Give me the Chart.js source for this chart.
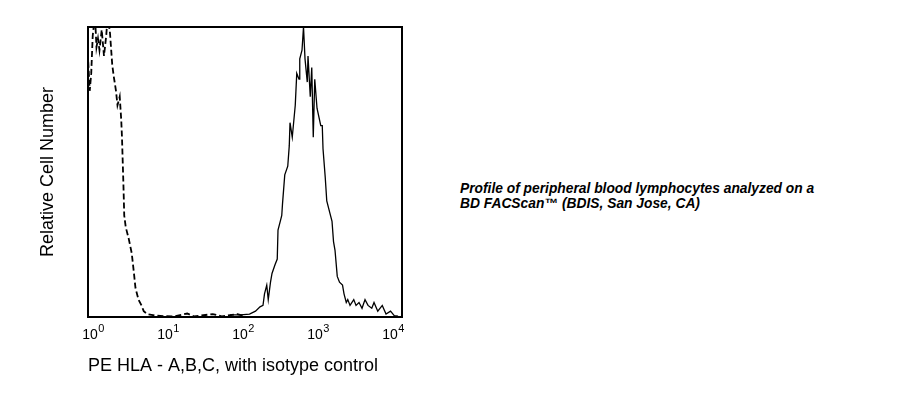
<!DOCTYPE html>
<html>
<head>
<meta charset="utf-8">
<script src="https://cdn.jsdelivr.net/npm/chart.js@4/dist/chart.umd.min.js"></script>
<style>
  body { margin: 0; background: #fff; }
  #wrap { position: absolute; left: 0; top: 0; width: 430px; height: 394px; }
  #caption {
    position: absolute; left: 460px; top: 181px;
    font: italic bold 13.8px "Liberation Sans", Arial, sans-serif;
    line-height: 15px; color: #000; white-space: nowrap;
  }
</style>
</head>
<body>
<div id="wrap"><canvas id="histChart" width="430" height="394"></canvas></div>
<div id="caption">Profile of peripheral blood lymphocytes analyzed on a<br>BD FACScan™ (BDIS, San Jose, CA)</div>
<script>
// x values are log10 of fluorescence (decades), y is relative cell count
let isoLog = [-0.07,-0.05,-0.03,-0.01,0.02,0.04,0.06,0.08,0.11,0.14,0.17,0.19,0.22,0.25,0.27,0.30,0.32,0.35,0.37,0.38,
  0.40,0.41,0.43,0.47,0.51,0.54,0.56,0.60,0.64,0.67,0.72,0.82,0.95,1.08,1.25,1.34,1.59,1.71,1.92,2.02];
let isoCount = [88,78,84,97,104,93,96,92,99,90,97,104,98,87,83,78,73,76,68,62,
  45,35,31,27,22,15,10,6,4,2,1,0.5,0.3,0.2,1.2,0.2,1.0,0.2,1.0,0.2];

let hlaLog = [1.82,1.96,2.08,2.16,2.22,2.26,2.28,2.31,2.33,2.36,2.38,2.42,2.45,2.46,2.49,2.51,2.52,2.55,2.59,2.61,
  2.62,2.65,2.69,2.71,2.74,2.75,2.78,2.80,2.82,2.85,2.86,2.89,2.91,2.93,2.95,2.98,3.03,3.05,3.06,3.09,
  3.11,3.15,3.18,3.20,3.22,3.25,3.28,3.32,3.34,3.37,3.39,3.42,3.47,3.50,3.54,3.58,3.62,3.66,3.71,3.74,
  3.79,3.85,3.90,3.96,4.01,4.06];
let hlaCount = [0.7,0.7,1,2,3.5,4,8,11,6,12,15,18,20,30,33,35,39,49,52,59,
  67,62,73,84,82,89,92,100,89,81,90,76,86,62,82,72,66,66,58,48,
  40,36,33,26,23,14,12,11,8,5,6,4,6,4,5,3,6,4,3,5,
  2,4,1,2,0.5,0.3];

let tickValues = [0, 1, 2, 3, 4];
let tickBase = "10";
let tickExponents = ["0", "1", "2", "3", "4"];

let boxPlugin = {
  id: 'box',
  afterDraw(chart) {
    let a = chart.chartArea;
    let c = chart.ctx;
    c.save();
    c.strokeStyle = '#000';
    c.lineWidth = 2;
    c.strokeRect(a.left, a.top, a.right - a.left, a.bottom - a.top);
    c.restore();
  }
};

// draws the decade exponents next to the "10" tick labels
let exponentPlugin = {
  id: 'exponents',
  afterDraw(chart) {
    let sx = chart.scales.x;
    let c = chart.ctx;
    let off = sx.options.ticks.labelOffset;
    c.save();
    c.font = '14px "Liberation Sans", Arial, sans-serif';
    let w = c.measureText(tickBase).width;
    c.font = '11px "Liberation Sans", Arial, sans-serif';
    c.fillStyle = '#000';
    c.textAlign = 'left';
    c.textBaseline = 'alphabetic';
    sx.ticks.forEach((t, i) => {
      let px = sx.getPixelForValue(t.value) + off;
      c.fillText(tickExponents[i], px + w / 2 + 0.5, chart.chartArea.bottom + 15);
    });
    c.restore();
  }
};

Chart.defaults.font.family = '"Liberation Sans", Arial, sans-serif';
Chart.defaults.color = '#000';

let histChart = new Chart(document.getElementById('histChart'), {
  type: 'line',
  data: {
    datasets: [
      {
        label: 'isotype control',
        data: isoLog.map((x, i) => ({x: x, y: isoCount[i]})),
        borderColor: '#000',
        borderWidth: 1.8,
        borderDash: [6, 3],
        pointRadius: 0,
        tension: 0
      },
      {
        label: 'PE HLA - A,B,C',
        data: hlaLog.map((x, i) => ({x: x, y: hlaCount[i]})),
        borderColor: '#000',
        borderWidth: 1.3,
        pointRadius: 0,
        tension: 0
      }
    ]
  },
  options: {
    responsive: false,
    animation: false,
    devicePixelRatio: 1,
    layout: { padding: { left: 0, top: 27, right: 28, bottom: 0 } },
    plugins: { legend: { display: false }, tooltip: { enabled: false } },
    scales: {
      x: {
        type: 'linear',
        min: -0.073,
        max: 4.113,
        grid: { display: false, drawTicks: false, tickLength: 0 },
        border: { display: false },
        afterBuildTicks: (scale) => { scale.ticks = tickValues.map(v => ({value: v})); },
        afterFit: (scale) => { scale.height = 77; },
        ticks: {
          padding: 10,
          labelOffset: -3.5,
          font: { size: 14 },
          maxRotation: 0,
          autoSkip: false,
          callback: () => tickBase
        },
        title: {
          display: true,
          align: 'start',
          text: 'PE HLA - A,B,C, with isotype control',
          font: { size: 18 },
          padding: { top: 0, bottom: 17.2 }
        }
      },
      y: {
        min: 0,
        max: 100,
        grid: { display: false, drawTicks: false, tickLength: 0 },
        border: { display: false },
        ticks: { display: false },
        title: {
          display: true,
          text: 'Relative Cell Number',
          font: { size: 18 },
          padding: { top: 37.5, bottom: 28.9 }
        }
      }
    }
  },
  plugins: [boxPlugin, exponentPlugin]
});
</script>
</body>
</html>
